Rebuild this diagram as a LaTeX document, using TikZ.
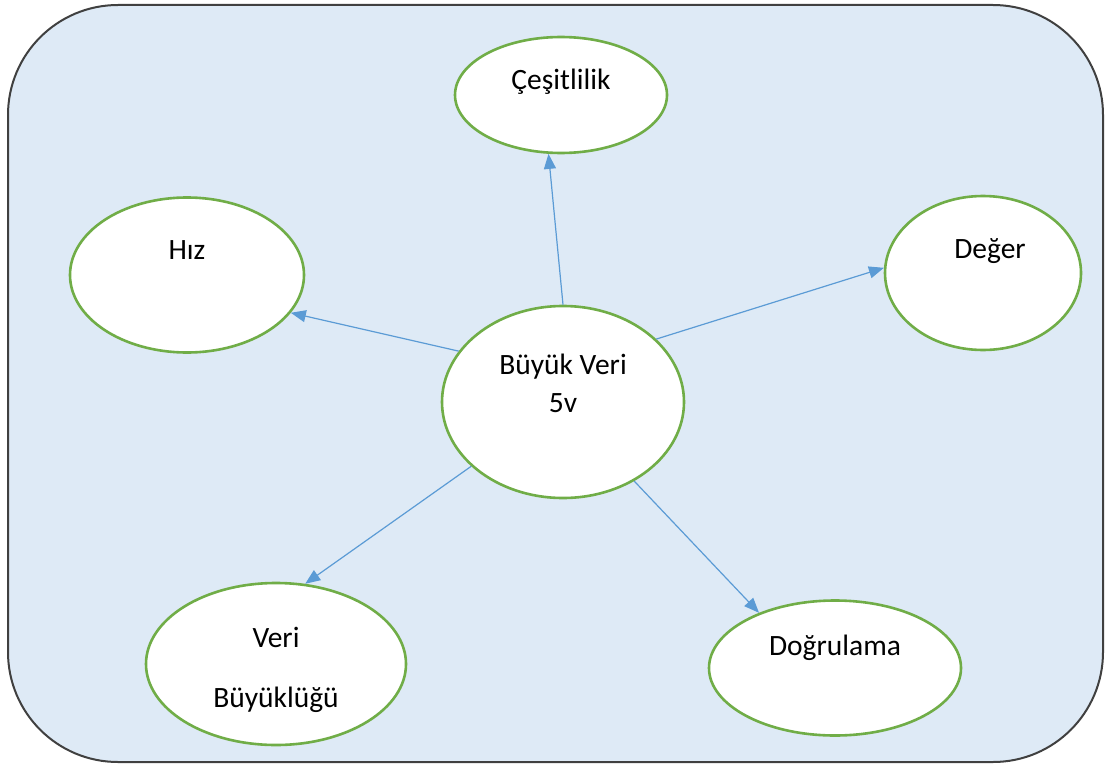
\documentclass[tikz,border=0pt]{standalone}
\usepackage{fontspec}
\setmainfont{Carlito}
\usepackage{tikz}
\usetikzlibrary{arrows.meta,shapes.geometric}
\definecolor{panelBlue}{RGB}{222,234,246}
\definecolor{panelEdge}{RGB}{64,64,64}
\definecolor{vGreen}{RGB}{112,173,71}
\definecolor{vBlue}{RGB}{91,155,213}

\begin{document}
\begin{tikzpicture}[x=1pt,y=-1pt,font=\fontsize{29.5}{35}\selectfont,
  vball/.style={ellipse,draw=vGreen,line width=2.6pt,fill=white,inner sep=0pt},
  vtext/.style={anchor=base,inner sep=0pt},
  vlink/.style={draw=vBlue,line width=1.2pt,-{Triangle[length=15pt,width=12pt]}}]
  \useasboundingbox (0,0) rectangle (1107,765);
  % panel
  \draw[fill=panelBlue,draw=panelEdge,line width=2pt,rounded corners=110pt] (8,5) rectangle (1103,762);
  % ellipses
  \node[vball,minimum width=212pt,minimum height=116pt] (cesit) at (561,95) {};
  \node[vball,minimum width=234pt,minimum height=155pt] (hiz) at (187,275) {};
  \node[vball,minimum width=196pt,minimum height=154pt] (deger) at (983,273) {};
  \node[vball,minimum width=242pt,minimum height=192pt] (buyuk) at (563,402) {};
  \node[vball,minimum width=260pt,minimum height=162pt] (boyut) at (276,664) {};
  \node[vball,minimum width=252pt,minimum height=135pt] (dogru) at (835,668) {};
  % texts
  \node[vtext] (cesitT) at (561,90) {Çeşitlilik};
  \node[vtext] (hizT) at (187,259) {Hız};
  \node[vtext] (degerT) at (990,258) {Değer};
  \node[vtext] (buyukT) at (563,374) {Büyük Veri};
  \node[vtext] (buyukV) at (563,412) {5v};
  \node[vtext] (boyutT) at (276,647) {Veri};
  \node[vtext] (boyutB) at (276,707) {Büyüklüğü};
  \node[vtext] (dogruT) at (835,655) {Doğrulama};
  % links
  \draw[vlink] (buyuk.90.6) -- (cesit.258.7);
  \draw[vlink] (buyuk.154.3) -- (hiz.340.7);
  \draw[vlink] (buyuk.34.8) -- (deger.177.7);
  \draw[vlink] (buyuk.215) -- (boyut.70.7);
  \draw[vlink] (buyuk.312.7) -- (dogru.144.4);
\end{tikzpicture}
\end{document}
